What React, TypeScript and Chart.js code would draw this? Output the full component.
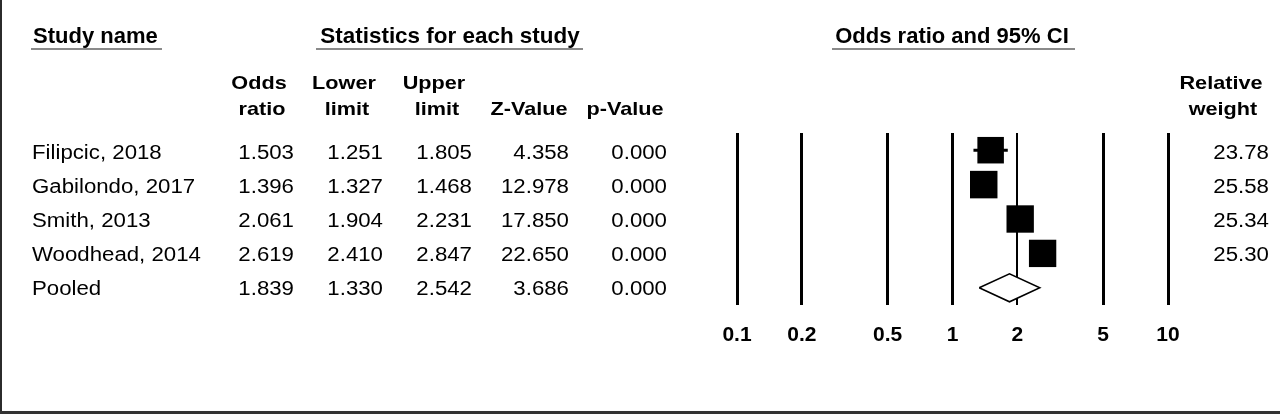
import React, { useEffect, useRef } from "react";
import { Chart, registerables } from "chart.js";

Chart.register(...registerables);

// ---- data ----
const STUDIES = ["Filipcic, 2018", "Gabilondo, 2017", "Smith, 2013", "Woodhead, 2014"];
const ODDS = [1.503, 1.396, 2.061, 2.619];
const LOWER = [1.251, 1.327, 1.904, 2.41];
const UPPER = [1.805, 1.468, 2.231, 2.847];
const ZVAL = [4.358, 12.978, 17.85, 22.65];
const PVAL = [0.0, 0.0, 0.0, 0.0];
const WEIGHT = [23.78, 25.58, 25.34, 25.3];

const POOLED_LABEL = "Pooled";
const POOLED_ODDS = 1.839;
const POOLED_LOWER = 1.33;
const POOLED_UPPER = 2.542;
const POOLED_Z = 3.686;
const POOLED_P = 0.0;

const TICK_VALUES = [0.1, 0.2, 0.5, 1, 2, 5, 10];
const TICK_LABELS = ["0.1", "0.2", "0.5", "1", "2", "5", "10"];

const FONT = '"Liberation Sans", Arial, Helvetica, sans-serif';

function T({ x, y, text, size, bold = false, sx = 1, align = "left" }: any) {
  const tx = align === "right" ? "-100%" : align === "center" ? "-50%" : "0";
  const origin = align === "right" ? "right center" : align === "center" ? "center center" : "left center";
  return (
    <div
      style={{
        position: "absolute",
        left: x,
        top: y - 0.8465 * size,
        fontSize: size,
        lineHeight: `${size}px`,
        fontWeight: bold ? 700 : 400,
        fontFamily: FONT,
        whiteSpace: "nowrap",
        color: "#000",
        transformOrigin: origin,
        transform: `translateX(${tx}) scaleX(${sx})`,
      }}
    >
      {text}
    </div>
  );
}

const BODY = 19.5;
const BODY_SX = 1.14;
const COLH = 19;
const COLH_SX = 1.14;

export default function App() {
  const ref = useRef<HTMLCanvasElement | null>(null);

  useEffect(() => {
    if (!ref.current) return;
    const side = (w: number) => 5.437 * Math.sqrt(w);
    const DH = 0.407;
    const chart = new Chart(ref.current, {
      type: "scatter",
      data: {
        datasets: [
          {
            label: "Studies",
            data: ODDS.map((o, i) => ({ x: o, y: i })),
            pointStyle: "rect",
            pointRadius: WEIGHT.map((w) => side(w) / Math.SQRT2),
            backgroundColor: "#000",
            borderColor: "#000",
            pointBorderWidth: 0,
            order: 0,
          } as any,
          ...STUDIES.map((s, i) => ({
            label: s,
            data: [
              { x: LOWER[i], y: i },
              { x: UPPER[i], y: i },
            ],
            showLine: true,
            borderColor: "#000",
            borderWidth: 3,
            pointRadius: 0,
            order: 1,
          })),
          {
            label: POOLED_LABEL,
            data: [
              { x: POOLED_LOWER, y: 4 },
              { x: POOLED_ODDS, y: 4 - DH },
              { x: POOLED_UPPER, y: 4 },
              { x: POOLED_ODDS, y: 4 + DH },
              { x: POOLED_LOWER, y: 4 },
            ],
            showLine: true,
            fill: "shape",
            backgroundColor: "#fff",
            borderColor: "#000",
            borderWidth: 1.5,
            pointRadius: 0,
            tension: 0,
            order: 2,
          } as any,
        ],
      },
      options: {
        animation: false,
        responsive: false,
        events: [],
        layout: { padding: { left: 737, right: 112, top: 133, bottom: 69 } },
        plugins: { legend: { display: false }, tooltip: { enabled: false } },
        scales: {
          x: {
            type: "logarithmic",
            min: 0.1,
            max: 10,
            position: "bottom",
            afterBuildTicks: (s: any) => {
              s.ticks = TICK_VALUES.map((v) => ({ value: v }));
            },
            afterFit: (s: any) => {
              s.height = 40;
            },
            grid: {
              color: "#000",
              lineWidth: (c: any) => (c.tick && c.tick.value === 2 ? 2 : 3),
              drawTicks: false,
            },
            border: { display: false },
            ticks: {
              autoSkip: false,
              maxRotation: 0,
              padding: 18,
              color: "#000",
              font: { family: FONT, size: 21, weight: "bold" },
              callback: (_v: any, i: number) => TICK_LABELS[i],
            },
          } as any,
          y: { type: "linear", min: -0.5, max: 4.5, reverse: true, display: false },
        },
      },
    });
    return () => chart.destroy();
  }, []);

  const rows = [...STUDIES, POOLED_LABEL];
  const odds = [...ODDS, POOLED_ODDS];
  const lower = [...LOWER, POOLED_LOWER];
  const upper = [...UPPER, POOLED_UPPER];
  const zv = [...ZVAL, POOLED_Z];
  const pv = [...PVAL, POOLED_P];
  const base = (i: number) => 159.5 + 34.1 * i;

  return (
    <div style={{ position: "relative", width: 1280, height: 414, overflow: "hidden", background: "#fff" }}>
      <style>{`body{margin:0;}`}</style>
      <canvas ref={ref} width={1280} height={414} style={{ position: "absolute", left: 0, top: 0 }} />
      <div style={{ position: "absolute", left: 0, top: 0, width: 2, height: 414, background: "#2b2b2b" }} />
      <div style={{ position: "absolute", left: 0, top: 411, width: 1280, height: 3, background: "#333" }} />

      {/* main headers */}
      <T x={33} y={44} text="Study name" size={22} bold />
      <div style={{ position: "absolute", left: 31, top: 48, width: 131, height: 2, background: "#8a8a8a" }} />
      <T x={449.5} y={44} text="Statistics for each study" size={22} bold align="center" sx={1.02} />
      <div style={{ position: "absolute", left: 316, top: 48, width: 267, height: 2, background: "#8a8a8a" }} />
      <T x={952} y={44} text="Odds ratio and 95% CI" size={22} bold align="center" />
      <div style={{ position: "absolute", left: 832, top: 48, width: 243, height: 2, background: "#8a8a8a" }} />

      {/* column headers */}
      <T x={259} y={89} text="Odds" size={COLH} bold sx={COLH_SX} align="center" />
      <T x={262} y={115} text="ratio" size={COLH} bold sx={COLH_SX} align="center" />
      <T x={344} y={89} text="Lower" size={COLH} bold sx={COLH_SX} align="center" />
      <T x={347} y={115} text="limit" size={COLH} bold sx={COLH_SX} align="center" />
      <T x={434} y={89} text="Upper" size={COLH} bold sx={COLH_SX} align="center" />
      <T x={437} y={115} text="limit" size={COLH} bold sx={COLH_SX} align="center" />
      <T x={529} y={115} text="Z-Value" size={COLH} bold sx={COLH_SX} align="center" />
      <T x={625} y={115} text="p-Value" size={COLH} bold sx={COLH_SX} align="center" />
      <T x={1221} y={89} text="Relative" size={COLH} bold sx={COLH_SX} align="center" />
      <T x={1222.5} y={115} text="weight" size={COLH} bold sx={COLH_SX} align="center" />

      {/* rows */}
      {rows.map((r, i) => (
        <React.Fragment key={r}>
          <T x={32} y={base(i)} text={r} size={BODY} sx={BODY_SX} />
          <T x={294} y={base(i)} text={odds[i].toFixed(3)} size={BODY} sx={BODY_SX} align="right" />
          <T x={383} y={base(i)} text={lower[i].toFixed(3)} size={BODY} sx={BODY_SX} align="right" />
          <T x={472} y={base(i)} text={upper[i].toFixed(3)} size={BODY} sx={BODY_SX} align="right" />
          <T x={569} y={base(i)} text={zv[i].toFixed(3)} size={BODY} sx={BODY_SX} align="right" />
          <T x={667} y={base(i)} text={pv[i].toFixed(3)} size={BODY} sx={BODY_SX} align="right" />
          {i < WEIGHT.length && (
            <T x={1269} y={base(i)} text={WEIGHT[i].toFixed(2)} size={BODY} sx={BODY_SX} align="right" />
          )}
        </React.Fragment>
      ))}
    </div>
  );
}
